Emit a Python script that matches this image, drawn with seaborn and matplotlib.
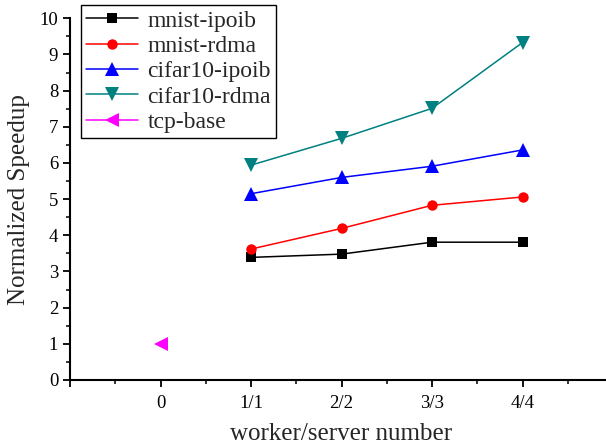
import numpy as np
import pandas as pd
import matplotlib
matplotlib.use("Agg")
import matplotlib.pyplot as plt
import seaborn as sns
from matplotlib.ticker import MultipleLocator, FixedLocator

sns.set_style("ticks")
plt.rcParams['font.family'] = ['Liberation Serif', 'DejaVu Serif']

x_labels = ["0", "1/1", "2/2", "3/3", "4/4"]
x_pos = [1, 2, 3, 4]
mnist_ipoib = [3.39, 3.48, 3.81, 3.81]
mnist_rdma = [3.62, 4.19, 4.83, 5.06]
cifar10_ipoib = [5.15, 5.60, 5.91, 6.36]
cifar10_rdma = [5.94, 6.68, 7.51, 9.33]
tcp_x = [0]
tcp_base = [1.0]

series = ["mnist-ipoib", "mnist-rdma", "cifar10-ipoib", "cifar10-rdma", "tcp-base"]
colors = {"mnist-ipoib": "#000000", "mnist-rdma": "#ff0000", "cifar10-ipoib": "#0000ff",
          "cifar10-rdma": "#008080", "tcp-base": "#ff00ff"}
markers = {"mnist-ipoib": "s", "mnist-rdma": "o", "cifar10-ipoib": "^",
           "cifar10-rdma": "v", "tcp-base": "<"}
msize = {"s": 7.5, "o": 7.5, "^": 9.5, "v": 9.5, "<": 9.5}

rows = []
for name, vals in [("mnist-ipoib", mnist_ipoib), ("mnist-rdma", mnist_rdma),
                   ("cifar10-ipoib", cifar10_ipoib), ("cifar10-rdma", cifar10_rdma)]:
    for xp, v in zip(x_pos, vals):
        rows.append({"x": xp, "y": v, "series": name})
for xp, v in zip(tcp_x, tcp_base):
    rows.append({"x": xp, "y": v, "series": "tcp-base"})
df = pd.DataFrame(rows)

fig = plt.figure(figsize=(6.06, 4.47), dpi=100)
ax = fig.add_axes([70/606, 67/447, 543/606, (380-18.3)/447])

sns.lineplot(data=df, x="x", y="y", hue="series", style="series", hue_order=series,
             style_order=series, palette=colors, markers=markers, dashes=False,
             markersize=7.5, markeredgewidth=0, linewidth=1.1, ax=ax, legend=True)
for ln in ax.lines:
    m = ln.get_marker()
    if m in msize:
        ln.set_markersize(msize[m])

ax.set_xlim(-1, 5)
ax.set_ylim(0, 10)
ax.xaxis.set_major_locator(FixedLocator([-1, 0, 1, 2, 3, 4, 5]))
ax.set_xticklabels([""] + x_labels + [""])
ax.xaxis.set_minor_locator(MultipleLocator(0.5))
ax.yaxis.set_major_locator(MultipleLocator(1))
ax.yaxis.set_minor_locator(MultipleLocator(0.5))
ax.tick_params(axis="both", which="major", direction="out", length=5, width=1.3,
               labelsize=13.5, colors="black")
ax.tick_params(axis="x", which="major", pad=6)
ax.tick_params(axis="both", which="minor", direction="out", length=3, width=1.3)
for s in ["top", "right"]:
    ax.spines[s].set_visible(False)
for s in ["left", "bottom"]:
    ax.spines[s].set_linewidth(1.5)
    ax.spines[s].set_color("black")

ax.set_xlabel("worker/server number", fontsize=18, labelpad=8)
ax.set_ylabel("Normalized Speedup", fontsize=18, labelpad=7)

leg = ax.legend(loc="upper left", bbox_to_anchor=(81/606, 1-5/447),
                bbox_transform=fig.transFigure, borderaxespad=0, fontsize=17,
                frameon=True, fancybox=False, edgecolor="black", framealpha=1,
                handlelength=2.2, handletextpad=0.4, labelspacing=0.16,
                borderpad=0.22)
leg.get_frame().set_linewidth(1.0)
for h in leg.legend_handles:
    m = h.get_marker()
    h.set_markersize(msize.get(m, 7.5))

fig.savefig("out.png", dpi=100)
